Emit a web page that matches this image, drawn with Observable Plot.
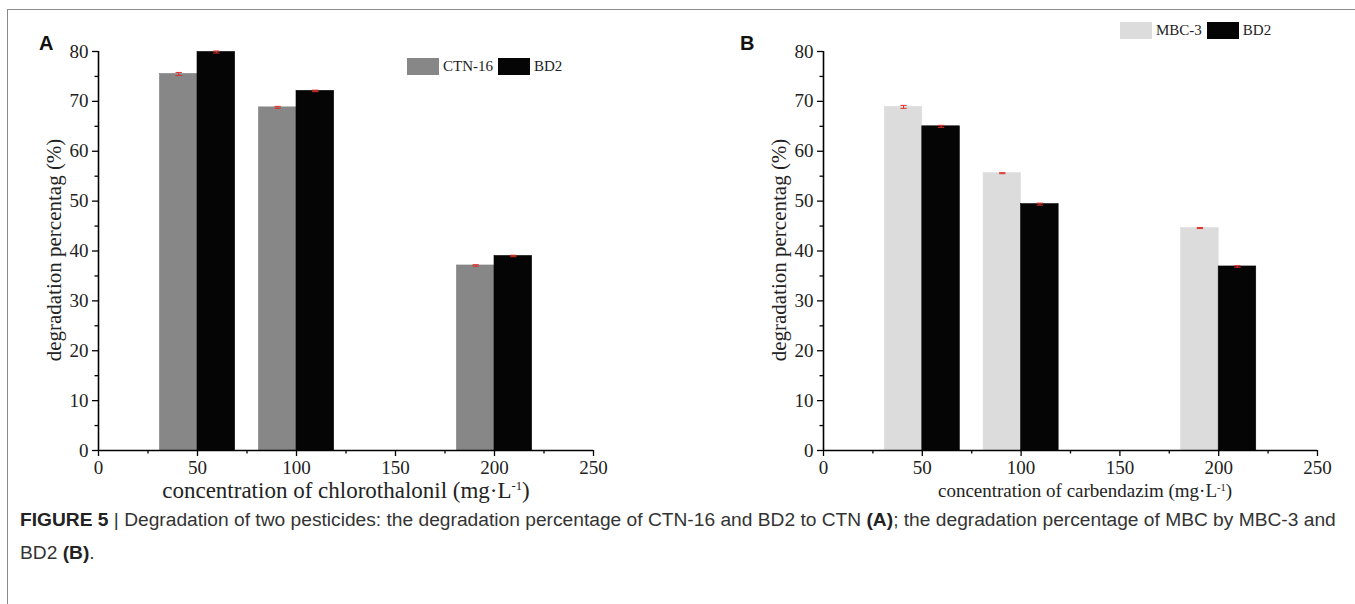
<!DOCTYPE html>
<html>
<head>
<meta charset="utf-8">
<script src="https://cdn.jsdelivr.net/npm/d3@7"></script>
<script src="https://cdn.jsdelivr.net/npm/@observablehq/plot@0.6"></script>
<style>
  html, body { margin: 0; padding: 0; background: #fff; }
  #root { position: relative; width: 1355px; height: 604px; overflow: hidden; background: #fff; }
  #frame { position: absolute; left: 7px; top: 9px; width: 1400px; height: 700px; border: 1px solid #8a8a8a; box-sizing: border-box; }
  .panel { position: absolute; top: 0; }
  .letter { position: absolute; font-family: "Liberation Sans", Arial, sans-serif; font-weight: bold; font-size: 20px; color: #111; }
  .xtitle { position: absolute; font-family: "Liberation Serif", "Times New Roman", serif; color: #222; transform: translate(-50%, -50%); white-space: nowrap; }
  .ytitle { position: absolute; font-family: "Liberation Serif", "Times New Roman", serif; font-size: 21px; color: #222; transform: translate(-50%, -50%) rotate(-90deg); white-space: nowrap; }
  .legend { position: absolute; font-family: "Liberation Serif", "Times New Roman", serif; font-size: 15px; color: #222; white-space: nowrap; display: flex; align-items: center; }
  .legend .sw { display: inline-block; width: 32px; height: 17px; margin-right: 4px; }
  .legend .lab { margin-right: 5px; }
  .capline { position: absolute; left: 20px; white-space: nowrap; font-family: "Liberation Sans", Arial, sans-serif; font-size: 19.2px; line-height: 24px; color: #333; }
  .capline b { color: #222; }
</style>
</head>
<body>
<div id="root">
  <div id="frame"></div>
</div>
<script>
// ---- data ----
const concentrations = [50, 100, 200];
const seriesA = ["CTN-16", "BD2"];
const ctn16 = [75.5, 68.8, 37.1];
const ctn16Err = [0.3, 0.2, 0.15];
const bd2A = [79.9, 72.1, 39.0];
const bd2AErr = [0.2, 0.15, 0.15];
const seriesB = ["MBC-3", "BD2"];
const mbc3 = [68.9, 55.6, 44.6];
const mbc3Err = [0.3, 0.1, 0.1];
const bd2B = [65.0, 49.4, 36.9];
const bd2BErr = [0.2, 0.2, 0.15];
const yTicks = [0, 10, 20, 30, 40, 50, 60, 70, 80];
const yMinor = [5, 15, 25, 35, 45, 55, 65, 75];
const xTicks = [0, 50, 100, 150, 200, 250];
const xMinor = [25, 75, 125, 175, 225];

const barW = 19; // bar width in concentration units
const serif = "'Liberation Serif', 'Times New Roman', serif";

function rows(names, v1, e1, v2, e2) {
  const out = [];
  concentrations.forEach((c, i) => {
    out.push({conc: c, series: names[0], value: v1[i], err: e1[i], x1: c - barW, x2: c, cx: c - barW / 2});
    out.push({conc: c, series: names[1], value: v2[i], err: e2[i], x1: c, x2: c + barW, cx: c + barW / 2});
  });
  return out;
}

function panel(data, names, colors, opts) {
  const svg = Plot.plot({
    width: opts.width,
    height: 490,
    marginLeft: opts.marginLeft,
    marginRight: opts.marginRight,
    marginTop: 51,
    marginBottom: 40,
    x: {domain: [0, 250]},
    y: {domain: [0, 80]},
    color: {domain: names, range: colors},
    style: {fontFamily: serif, fontSize: "18px", color: "#222", background: "transparent", overflow: "visible"},
    marks: [
      Plot.rectY(data, {x1: "x1", x2: "x2", y1: 0, y2: "value", fill: "series", stroke: d => d.series === "BD2" ? "#000" : colors[0], strokeWidth: 0.6}),
      Plot.link(data, {x1: "cx", x2: "cx", y1: d => d.value - d.err, y2: d => d.value + d.err, stroke: "#e0302a", strokeWidth: 1}),
      Plot.link(data, {x1: d => d.cx - 1.6, x2: d => d.cx + 1.6, y1: d => d.value + d.err, y2: d => d.value + d.err, stroke: "#e0302a", strokeWidth: 1}),
      Plot.link(data, {x1: d => d.cx - 1.6, x2: d => d.cx + 1.6, y1: d => d.value - d.err, y2: d => d.value - d.err, stroke: "#e0302a", strokeWidth: 1}),
      Plot.axisY({ticks: yTicks, tickSize: 6, tickPadding: 4, tickFormat: d => d, label: null, stroke: "#000", strokeWidth: 1.3, fill: "#222", fontSize: 19, fontFamily: serif}),
      Plot.axisY({ticks: yMinor, tickSize: 3.5, tickFormat: () => "", label: null, stroke: "#000", strokeWidth: 1.3}),
      Plot.axisX({ticks: xTicks, tickSize: 6, tickPadding: 4, tickFormat: d => d, label: null, stroke: "#000", strokeWidth: 1.3, fill: "#222", fontSize: 19, fontFamily: serif}),
      Plot.axisX({ticks: xMinor, tickSize: 3.5, tickFormat: () => "", label: null, stroke: "#000", strokeWidth: 1.3}),
      Plot.ruleY([0], {stroke: "#000", strokeWidth: 1.6}),
      Plot.ruleX([0], {stroke: "#000", strokeWidth: 1.6})
    ]
  });
  d3.select(svg).selectAll("text")
    .style("font-family", serif)
    .style("font-size", "19px")
    .style("fill", "#222");
  return svg;
}

const root = document.getElementById("root");

const svgA = panel(rows(seriesA, ctn16, ctn16Err, bd2A, bd2AErr), seriesA, ["#878787", "#050505"], {width: 677, marginLeft: 98, marginRight: 84});
svgA.classList.add("panel");
svgA.style.left = "0px";
root.appendChild(svgA);

const svgB = panel(rows(seriesB, mbc3, mbc3Err, bd2B, bd2BErr), seriesB, ["#dcdcdc", "#050505"], {width: 678, marginLeft: 146, marginRight: 38});
svgB.classList.add("panel");
svgB.style.left = "677px";
root.appendChild(svgB);

function add(html, cls, style) {
  const el = document.createElement("div");
  el.className = cls;
  el.innerHTML = html;
  Object.assign(el.style, style);
  root.appendChild(el);
  return el;
}

add("A", "letter", {left: "39px", top: "32px"});
add("B", "letter", {left: "740px", top: "32px"});

add("degradation percentag (%)", "ytitle", {left: "54px", top: "250px"});
add("degradation percentag (%)", "ytitle", {left: "779px", top: "250px"});

add("<span>concentration of chlorothalonil (mg·L</span><sup style='font-size:0.55em;vertical-align:0.6em'>-1</sup><span>)</span>", "xtitle", {left: "346px", top: "491px", fontSize: "23px"});
add("<span>concentration of carbendazim (mg·L</span><sup style='font-size:0.55em;vertical-align:0.6em'>-1</sup><span>)</span>", "xtitle", {left: "1085px", top: "491px", fontSize: "19px"});

function legendHTML(names, colors) {
  return names.map((n, i) => `<span class="sw" style="background:${colors[i]}"></span><span class="lab">${n}</span>`).join("");
}
add(legendHTML(seriesA, ["#878787", "#050505"]), "legend", {left: "407px", top: "58px"});
add(legendHTML(seriesB, ["#dcdcdc", "#050505"]), "legend", {left: "1120px", top: "22px"});

add("<b>FIGURE 5</b><span> | Degradation of two pesticides: the degradation percentage of CTN-16 and BD2 to CTN </span><b>(A)</b><span>; the degradation percentage of MBC by MBC-3 and</span>", "capline", {top: "508px"});
add("<span>BD2 </span><b>(B)</b><span>.</span>", "capline", {top: "541px"});
</script>
</body>
</html>
